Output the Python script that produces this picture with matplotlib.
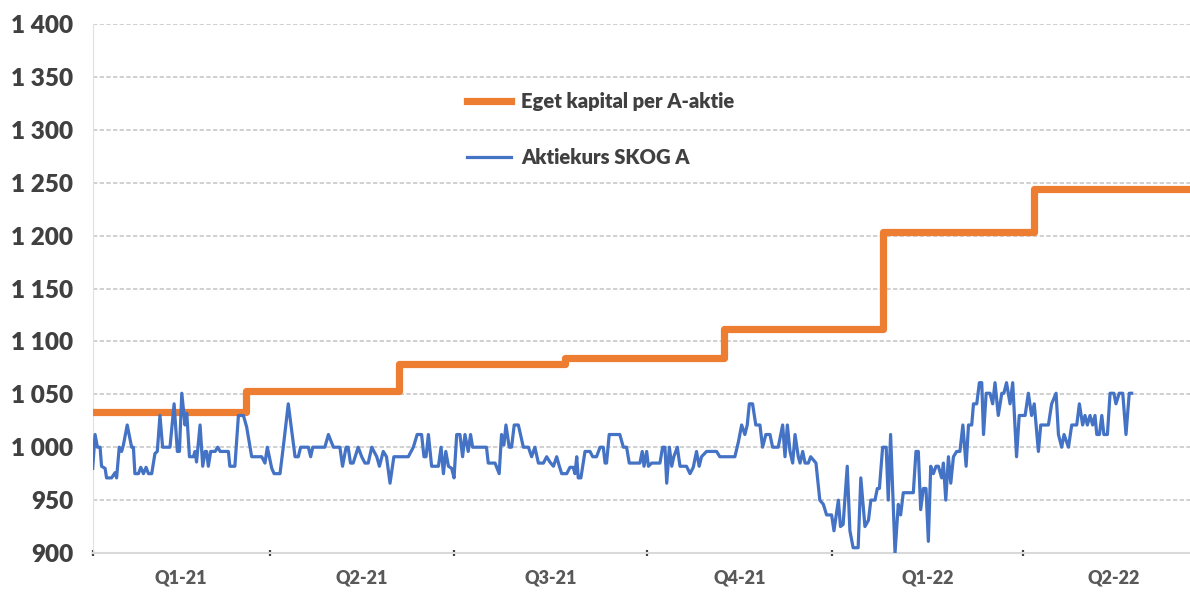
import matplotlib
matplotlib.use('Agg')
import matplotlib.pyplot as plt
from matplotlib.ticker import FixedLocator, FuncFormatter, NullFormatter

plt.rcParams['font.family'] = ['Lato', 'DejaVu Sans']

# x axis is counted in trading days from the start of 2021
quarter_start = [0, 60, 122.5, 188, 250.5, 315.5, 376.5]
quarter_labels = ['Q1-21', 'Q2-21', 'Q3-21', 'Q4-21', 'Q1-22', 'Q2-22']

# Eget kapital per A-aktie (step series)
equity_day = [0, 52, 104, 160, 214, 268, 319, 372]
equity = [1033, 1053, 1078.5, 1084, 1112, 1203, 1244, 1244]

# Aktiekurs SKOG A
price_day = [
    0, 0.8, 1.6, 2.5, 3.0, 4.2, 4.7, 6.4, 7.6, 8.1, 9.0, 9.8, 10.4, 11.7,
    13.2, 13.8, 14.3, 15.5, 16.3, 17.2, 18.1, 18.9, 20.0, 21.1, 21.9, 22.8,
    23.7, 26.2, 27.6, 28.7, 29.4, 30.2, 31.3, 31.9, 32.8, 34.1, 34.7, 35.2,
    36.4, 37.3, 38.1, 38.6, 39.2, 40.0, 41.5, 42.4, 43.2, 46.0, 46.5, 48.2,
    49.4, 51.1, 52.2, 53.9, 57.3, 58.4, 59.2, 60.7, 61.5, 63.5, 64.6, 66.3,
    68.6, 69.7, 70.5, 73.1, 73.9, 74.6, 78.7, 79.9, 81.6, 83.8, 84.7, 85.9,
    86.6, 87.4, 88.3, 90.0, 91.2, 92.3, 93.4, 94.6, 96.3, 97.2, 98.5, 99.6,
    100.8, 102.1, 107.0, 108.7, 110.0, 111.5, 112.3, 113.0, 113.8, 114.9,
    117.2, 118.1, 118.9, 119.7, 120.6, 121.7, 122.5, 123.4, 124.5, 125.4,
    126.2, 127.3, 128.1, 128.8, 133.5, 134.1, 136.4, 137.8, 138.6, 139.4,
    140.1, 141.2, 142.0, 142.9, 144.3, 146.0, 147.7, 148.8, 149.9, 151.1,
    152.8, 153.9, 155.0, 156.2, 157.3, 158.2, 159.0, 160.7, 161.8, 162.9,
    163.5, 164.1, 164.6, 165.5, 166.9, 168.6, 169.5, 170.8, 172.0, 173.1,
    173.7, 174.2, 175.1, 178.7, 179.9, 181.0, 181.9, 185.5, 186.3, 186.9,
    187.8, 188.4, 189.5, 192.3, 193.2, 194.0, 194.6, 195.5, 196.3, 197.0,
    198.2, 199.1, 201.3, 202.5, 203.6, 204.7, 205.6, 206.4, 208.1, 211.5,
    212.6, 217.7, 218.9, 220.0, 221.1, 221.9, 222.6, 223.7, 224.8, 226.2,
    227.1, 228.2, 229.6, 230.5, 232.4, 233.9, 234.7, 235.5, 236.4, 237.3,
    238.1, 239.2, 239.8, 240.7, 241.5, 242.6, 243.4, 245.2, 246.5, 247.7,
    248.8, 250.5, 251.3, 252.8, 253.5, 254.4, 255.8, 256.7, 257.8, 259.5,
    260.4, 261.8, 263.0, 263.8, 265.2, 266.0, 266.7, 267.8, 269.0, 269.7,
    270.5, 272.0, 273.1, 273.9, 274.8, 278.2, 279.1, 279.9, 280.7, 281.6,
    282.5, 283.3, 284.1, 285.0, 285.9, 286.7, 287.8, 288.4, 289.2, 290.1,
    290.9, 291.8, 292.9, 294.0, 295.0, 296.1, 296.9, 298.0, 298.6, 299.7,
    300.6, 301.4, 302.0, 302.9, 304.2, 305.1, 305.9, 307.0, 308.2, 308.9,
    309.8, 311.0, 311.9, 313.2, 314.1, 316.1, 317.2, 318.3, 319.2, 320.6,
    321.4, 324.0, 325.1, 326.6, 327.4, 328.5, 329.3, 330.8, 331.9, 333.6,
    334.5, 335.6, 336.4, 337.2, 338.1, 339.0, 339.8, 340.4, 341.3, 342.1,
    342.8, 344.0, 344.9, 346.2, 346.9, 348.0, 349.2, 350.3, 351.4, 352.2,
]
price = [
    980, 1012, 1000, 1000, 982, 980, 971, 971, 976, 971, 1000, 996, 1002, 1021,
    1000, 1000, 975, 975, 981, 975, 981, 975, 975, 994, 996, 1030,
    1000, 1000, 1041, 996, 996, 1051, 1021, 1032, 991, 991, 996, 986,
    1021, 982, 996, 996, 982, 996, 996, 1000, 996, 996, 982, 982,
    1030, 1030, 1019, 991, 991, 985, 1000, 980, 975, 975, 1000, 1041,
    991, 991, 1000, 1000, 991, 1000, 1000, 1012, 1000, 1000, 982, 1000,
    1000, 985, 985, 1000, 991, 985, 985, 1000, 991, 982, 996, 991,
    966, 991, 991, 1000, 1012, 1012, 991, 991, 1012, 982,
    982, 1000, 975, 996, 982, 980, 971, 1012, 1012, 991,
    1012, 996, 1012, 1000, 1000, 985, 985, 975, 1012, 1002,
    1021, 1000, 1000, 1021, 1021, 1000, 1000, 991, 1000, 985,
    985, 991, 986, 982, 991, 982, 975, 975, 981, 981,
    975, 991, 971, 971, 996, 996, 991, 991, 1000, 1000,
    985, 985, 1012, 1012, 1000, 1000, 985, 985, 996, 982,
    996, 982, 985, 985, 1000, 1000, 966, 1000, 982, 991,
    1000, 982, 982, 975, 981, 996, 982, 991, 996, 996,
    991, 991, 1005, 1021, 1012, 1021, 1041, 1041, 1021, 1021,
    1000, 1012, 1012, 1000, 1000, 1021, 991, 1021, 996, 985,
    1012, 991, 985, 996, 985, 985, 991, 985, 950, 946,
    936, 936, 921, 950, 925, 927, 982, 921, 905, 905,
    971, 925, 931, 950, 950, 961, 961, 1000, 1000, 950,
    1012, 900, 946, 936, 957, 957, 996, 996, 941, 961,
    961, 911, 982, 975, 982, 982, 971, 985, 950, 991,
    966, 991, 996, 996, 1021, 982, 1021, 1021, 1041, 1041,
    1061, 1061, 1012, 1051, 1051, 1041, 1061, 1030, 1051, 1051,
    1061, 1041, 1061, 991, 1030, 1030, 1051, 1030, 1041, 996,
    1021, 1021, 1041, 1051, 1012, 1000, 1012, 1000, 1021, 1021,
    1041, 1021, 1030, 1021, 1030, 1021, 1030, 1012, 1012, 1030,
    1012, 1012, 1051, 1051, 1041, 1051, 1051, 1012, 1051, 1051,
]

fig = plt.figure(figsize=(11.9, 5.94), dpi=100)
ax = fig.add_axes([0.0779, 0.069, 0.9221, 0.8906])

ax.plot(equity_day, equity, drawstyle='steps-post', color='#ED7D31',
        linewidth=5.2, label='Eget kapital per A-aktie', zorder=3)
ax.plot(price_day, price, color='#4472C4', linewidth=2.3,
        solid_joinstyle='round', label='Aktiekurs SKOG A', zorder=4)

ax.set_xlim(0, 372)
ax.set_ylim(900, 1400)

# y axis
ax.yaxis.set_major_locator(FixedLocator(range(900, 1401, 50)))
ax.yaxis.set_major_formatter(
    FuncFormatter(lambda v, pos: '{:,}'.format(int(v)).replace(',', ' ')))
ax.tick_params(axis='y', length=0, pad=14, labelsize=17.5, labelcolor='#404040')
for lbl in ax.get_yticklabels():
    lbl.set_fontweight('heavy')
ax.yaxis.grid(True, color='#c8c8c8', linestyle=(0, (2.6, 1.4)), linewidth=1.2)
ax.set_axisbelow(True)

# x axis: ticks at quarter boundaries, labels centred in each quarter
mids = [(a + b) / 2 for a, b in zip(quarter_start[:-1], quarter_start[1:])]
ax.xaxis.set_major_locator(FixedLocator(quarter_start[:-1]))
ax.xaxis.set_major_formatter(NullFormatter())
ax.xaxis.set_minor_locator(FixedLocator(mids))
ax.set_xticklabels(quarter_labels, minor=True)
ax.tick_params(axis='x', which='major', length=5, width=1.6, color='#404040',
               direction='inout')
ax.tick_params(axis='x', which='minor', length=0, pad=12, labelsize=13,
               labelcolor='#595959')
for lbl in ax.get_xticklabels(minor=True):
    lbl.set_fontweight('heavy')

for side in ['top', 'right']:
    ax.spines[side].set_visible(False)
ax.spines['left'].set_color('#e0e0e0')
ax.spines['left'].set_linewidth(0.8)
ax.spines['bottom'].set_color('#d9d9d9')
ax.spines['bottom'].set_linewidth(1.5)

leg = fig.legend(loc='upper left', bbox_to_anchor=(467 / 1190, 1 - 92 / 594),
                 frameon=False, borderpad=0, borderaxespad=0,
                 handlelength=2.2, handletextpad=0.5, labelspacing=1.85,
                 prop={'size': 14.5, 'weight': 'heavy'})
for t in leg.get_texts():
    t.set_color('#404040')

fig.savefig('out.png', dpi=100)
